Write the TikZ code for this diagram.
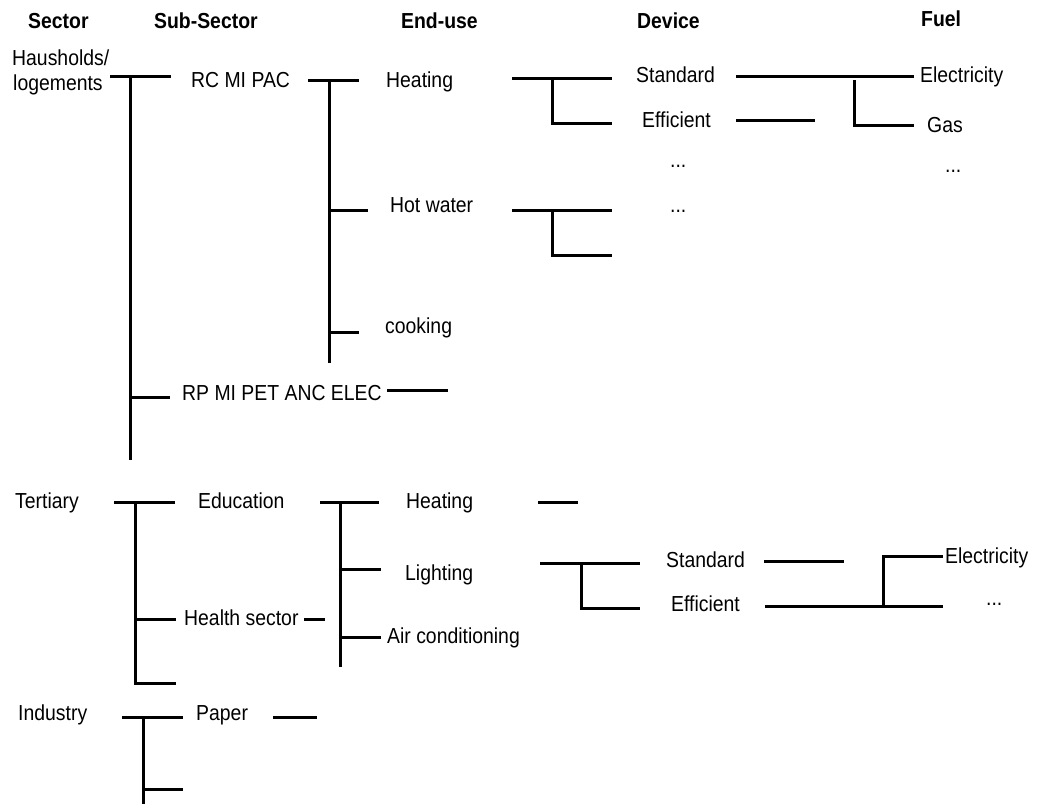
\documentclass[tikz,border=0pt]{standalone}
\usepackage{fontspec}
\setmainfont{Liberation Sans}
\usepackage{graphicx}
\newcommand\lbl[1]{\scalebox{1}[1.12]{#1}}
\tikzset{
  lab/.style={anchor=base west, inner sep=0pt, font=\fontsize{19.4}{22}\selectfont},
  hdr/.style={lab, font=\fontsize{19.4}{22}\selectfont\bfseries},
  ln/.style={line width=3pt, line cap=butt},
}
\begin{document}
\begin{tikzpicture}[x=1pt,y=-1pt]
\useasboundingbox (0,0) rectangle (1037,804);
% headers
\node[hdr] (hsec) at (28,28) {\lbl{Sector}};
\node[hdr] (hsub) at (154,28) {\lbl{Sub-Sector}};
\node[hdr] (hend) at (401,28) {\lbl{End-use}};
\node[hdr] (hdev) at (637,28) {\lbl{Device}};
\node[hdr] (hfuel) at (921,26) {\lbl{Fuel}};
% households
\node[lab] (haus1) at (12,65) {\lbl{Hausholds/}};
\node[lab] (haus2) at (13,90.5) {\lbl{logements}};
\node[lab] (rc) at (191,87) {\lbl{RC MI PAC}};
\node[lab] (heat1) at (386,87) {\lbl{Heating}};
\node[lab] (hotw) at (390,212) {\lbl{Hot water}};
\node[lab] (cook) at (385,333) {\lbl{cooking}};
\node[lab] (rp) at (182,400) {\lbl{RP MI PET ANC ELEC}};
\node[lab] (std1) at (636,82) {\lbl{Standard}};
\node[lab] (eff1) at (642,127) {\lbl{Efficient}};
\node[lab] (dots1) at (670,167) {\lbl{...}};
\node[lab] (dots2) at (670,212) {\lbl{...}};
\node[lab] (elec1) at (920,82) {\lbl{Electricity}};
\node[lab] (gas1) at (927,132) {\lbl{Gas}};
\node[lab] (dots3) at (945,172) {\lbl{...}};
% tertiary
\node[lab] (tert) at (15,508) {\lbl{Tertiary}};
\node[lab] (edu) at (198,508) {\lbl{Education}};
\node[lab] (heat2) at (406,508) {\lbl{Heating}};
\node[lab] (health) at (184,625) {\lbl{Health sector}};
\node[lab] (light) at (405,580) {\lbl{Lighting}};
\node[lab] (aircon) at (387,643) {\lbl{Air conditioning}};
\node[lab] (std2) at (666,567) {\lbl{Standard}};
\node[lab] (eff2) at (671,611) {\lbl{Efficient}};
\node[lab] (elec2) at (945,563) {\lbl{Electricity}};
\node[lab] (dots4) at (986,605) {\lbl{...}};
% industry
\node[lab] (ind) at (18,720) {\lbl{Industry}};
\node[lab] (paper) at (196,720) {\lbl{Paper}};
% lines: households
\draw[ln] (110,76) -- (171,76);
\draw[ln] (130,76) -- (130,460);
\draw[ln] (130,397) -- (170,397);
\draw[ln] (308,80) -- (359,80);
\draw[ln] (329,80) -- (329,363);
\draw[ln] (329,210) -- (368,210);
\draw[ln] (329,332) -- (359,332);
\draw[ln] (512,78) -- (612,78);
\draw[ln] (552,78) -- (552,123) -- (612,123);
\draw[ln] (512,210) -- (612,210);
\draw[ln] (552,210) -- (552,255) -- (612,255);
\draw[ln] (736,76) -- (914,76);
\draw[ln] (854,80) -- (854,125) -- (914,125);
\draw[ln] (736,120) -- (815,120);
\draw[ln] (387,390) -- (448,390);
% lines: tertiary
\draw[ln] (114,502) -- (175,502);
\draw[ln] (135,502) -- (135,683) -- (176,683);
\draw[ln] (135,619) -- (176,619);
\draw[ln] (320,502) -- (379,502);
\draw[ln] (340,502) -- (340,667);
\draw[ln] (340,569) -- (381,569);
\draw[ln] (340,637) -- (381,637);
\draw[ln] (538,502) -- (578,502);
\draw[ln] (304,619) -- (325,619);
\draw[ln] (540,563) -- (640,563);
\draw[ln] (581,563) -- (581,608) -- (640,608);
\draw[ln] (764,561) -- (844,561);
\draw[ln] (765,606) -- (943,606);
\draw[ln] (883,606) -- (883,556) -- (943,556);
% lines: industry
\draw[ln] (122,717) -- (183,717);
\draw[ln] (143,717) -- (143,804);
\draw[ln] (143,789) -- (183,789);
\draw[ln] (273,717) -- (317,717);
\end{tikzpicture}
\end{document}
